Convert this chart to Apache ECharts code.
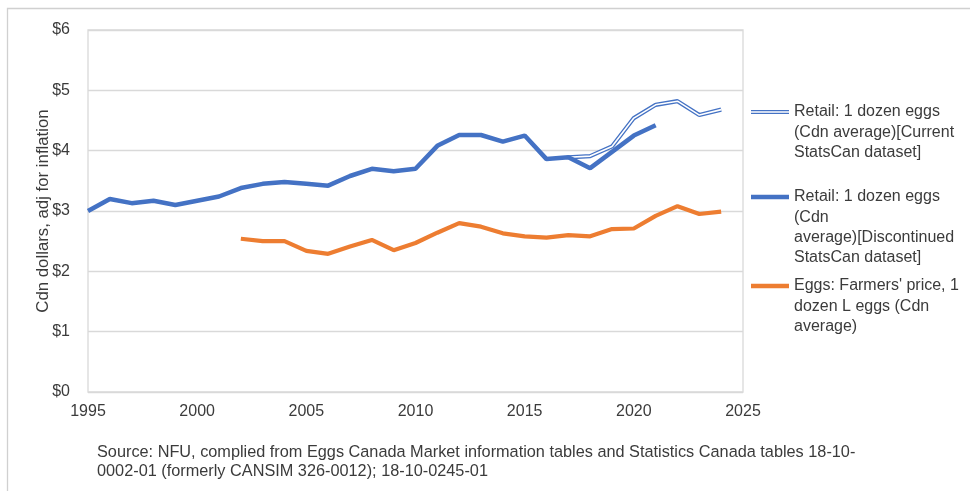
<!DOCTYPE html>
<html>
<head>
<meta charset="utf-8">
<script src="https://cdn.jsdelivr.net/npm/echarts@6/dist/echarts.min.js"></script>
<style>
html,body{margin:0;padding:0;background:#fff;}
#chart{width:970px;height:491px;}
</style>
</head>
<body>
<div id="chart"></div>
<script>
// Data (Cdn dollars, adjusted for inflation)
var yearsDiscontinued = [1995,1996,1997,1998,1999,2000,2001,2002,2003,2004,2005,2006,2007,2008,2009,2010,2011,2012,2013,2014,2015,2016,2017,2018,2019,2020,2021];
var retailDiscontinued = [3.00,3.20,3.13,3.17,3.10,3.17,3.24,3.38,3.45,3.48,3.45,3.42,3.58,3.70,3.66,3.70,4.08,4.26,4.26,4.15,4.25,3.86,3.89,3.71,3.98,4.25,4.42];

var yearsCurrent = [2017,2018,2019,2020,2021,2022,2023,2024];
var retailCurrent = [3.89,3.91,4.07,4.54,4.76,4.82,4.59,4.68];

var yearsFarm = [2002,2003,2004,2005,2006,2007,2008,2009,2010,2011,2012,2013,2014,2015,2016,2017,2018,2019,2020,2021,2022,2023,2024];
var farmPrice = [2.54,2.50,2.50,2.34,2.29,2.41,2.52,2.35,2.47,2.64,2.80,2.74,2.63,2.58,2.56,2.60,2.58,2.70,2.71,2.92,3.08,2.95,2.99];

var seriesNames = [
  'Retail: 1 dozen eggs (Cdn average)[Current StatsCan dataset]',
  'Retail: 1 dozen eggs (Cdn average)[Discontinued StatsCan dataset]',
  "Eggs: Farmers' price, 1 dozen L eggs (Cdn average)"
];
var legendLines = [
  ['Retail: 1 dozen eggs', '(Cdn average)[Current', 'StatsCan dataset]'],
  ['Retail: 1 dozen eggs', '(Cdn', 'average)[Discontinued', 'StatsCan dataset]'],
  ["Eggs: Farmers' price, 1", 'dozen L eggs (Cdn', 'average)']
];
var yTicks = ['$0','$1','$2','$3','$4','$5','$6'];
var sourceNote = ['Source: NFU, complied from Eggs Canada Market information tables and Statistics Canada tables 18-10-',
                  '0002-01 (formerly CANSIM 326-0012); 18-10-0245-01'];
var yAxisTitle = 'Cdn dollars, adj for inflation';

function pairs(xs, ys){ return xs.map(function(x,i){ return [x, ys[i]]; }); }

var BLUE = '#4472C4', ORANGE = '#ED7D31', GRID = '#d9d9d9', TXT = '#3b3b3b';
var FONT = 'Liberation Sans, Arial, sans-serif';
var LH = 20.3;
var IW = 38;
var iconY = [112, 197, 286];

// icon path: line drawn at the first text line, box spans the whole text block
function iconPath(n, dbl){
  var H = n * LH, c = LH / 2, p;
  if (dbl) {
    p = 'M0,' + (c-2) + 'H' + IW + 'V' + (c-0.7) + 'H0Z M0,' + (c+0.7) + 'H' + IW + 'V' + (c+2) + 'H0Z';
  } else {
    p = 'M0,' + (c-2.2) + 'H' + IW + 'V' + (c+2.2) + 'H0Z';
  }
  return 'path://M0,0L0,0 M' + IW + ',' + H + 'L' + IW + ',' + H + ' ' + p;
}

function makeLegend(i, dbl){
  var n = legendLines[i].length;
  return {
    show: true,
    orient: 'vertical',
    left: 751,
    top: iconY[i] - LH / 2,
    padding: 0,
    itemWidth: IW,
    itemHeight: n * LH,
    itemGap: 0,
    icon: iconPath(n, dbl),
    selectedMode: false,
    data: [seriesNames[i]],
    formatter: function(){ return legendLines[i].join('\n'); },
    textStyle: { fontFamily: FONT, fontSize: 16, color: TXT, lineHeight: LH }
  };
}

var chart = echarts.init(document.getElementById('chart'), null, {renderer: 'canvas'});
chart.setOption({
  animation: false,
  backgroundColor: '#ffffff',
  grid: { left: 88, right: 227, top: 30, bottom: 99, show: true, borderColor: GRID, borderWidth: 1.3 },
  legend: [
    makeLegend(0, true),
    makeLegend(1, false),
    makeLegend(2, false)
  ],
  xAxis: {
    type: 'value', min: 1995, max: 2025, interval: 5,
    axisLine: { show: false }, axisTick: { show: false },
    splitLine: { show: false },
    axisLabel: { fontFamily: FONT, fontSize: 16, color: TXT, margin: 12,
      formatter: function(v){ return String(v); } }
  },
  yAxis: {
    type: 'value', min: 0, max: 6, interval: 1,
    name: yAxisTitle, nameLocation: 'middle', nameGap: 36, nameMoveOverlap: false,
    nameTextStyle: { fontFamily: FONT, fontSize: 16.8, color: TXT },
    axisLine: { show: false }, axisTick: { show: false },
    splitLine: { show: true, lineStyle: { color: GRID, width: 1.3 } },
    axisLabel: { fontFamily: FONT, fontSize: 16, color: TXT, margin: 18,
      formatter: function(v){ return yTicks[Math.round(v)]; } }
  },
  series: [
    { name: seriesNames[0], type: 'line', data: pairs(yearsCurrent, retailCurrent),
      showSymbol: false, symbol: 'none', color: BLUE,
      lineStyle: { color: BLUE, width: 4.2 }, z: 2 },
    { name: 'current-inner', type: 'line', data: pairs(yearsCurrent, retailCurrent),
      showSymbol: false, symbol: 'none', color: '#ffffff',
      lineStyle: { color: '#ffffff', width: 1.6 }, z: 3, silent: true },
    { name: seriesNames[1], type: 'line', data: pairs(yearsDiscontinued, retailDiscontinued),
      showSymbol: false, symbol: 'none', color: BLUE,
      lineStyle: { color: BLUE, width: 4.5 }, z: 4 },
    { name: seriesNames[2], type: 'line', data: pairs(yearsFarm, farmPrice),
      showSymbol: false, symbol: 'none', color: ORANGE,
      lineStyle: { color: ORANGE, width: 4.2 }, z: 4 }
  ],
  graphic: [
    { type: 'polyline', silent: true,
      shape: { points: [[7.5, 491], [7.5, 8.5], [970, 8.5]] },
      style: { stroke: '#d0d0d0', lineWidth: 1.3, fill: null } },
    { type: 'text', left: 97, top: 443, silent: true,
      style: { text: sourceNote.join('\n'), font: '16.3px ' + FONT, fill: TXT, lineHeight: 19 } }
  ]
});
</script>
</body>
</html>
